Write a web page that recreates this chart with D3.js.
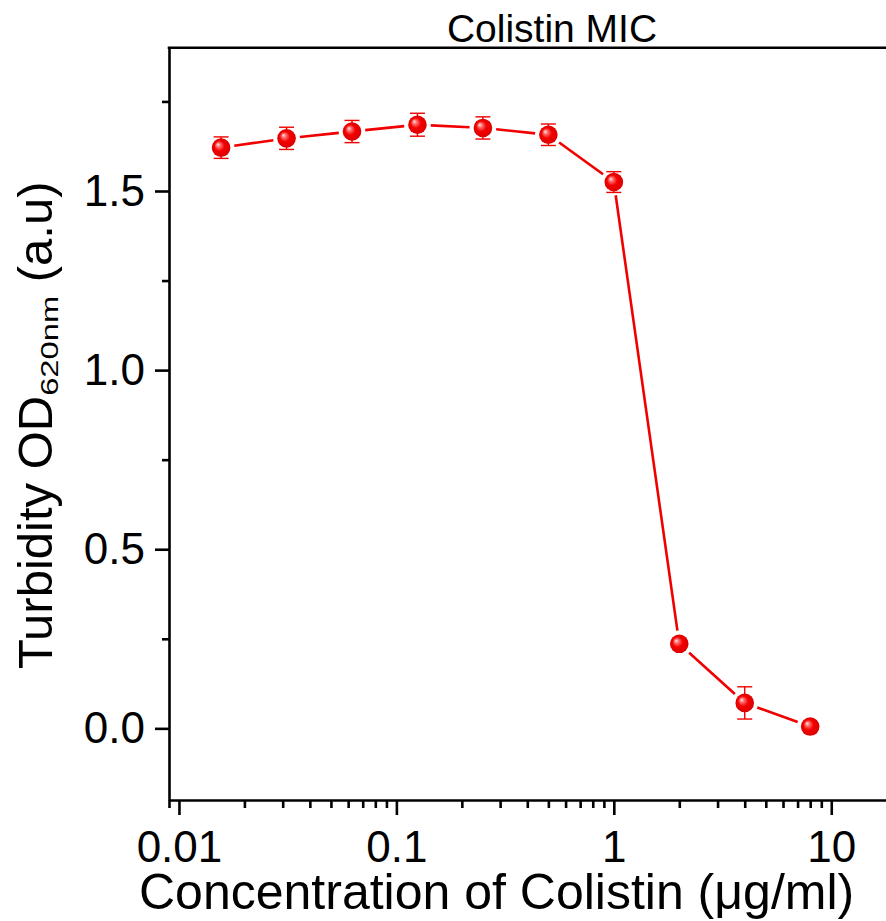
<!DOCTYPE html>
<html><head><meta charset="utf-8">
<script src="https://cdn.jsdelivr.net/npm/d3@7"></script>
<style>
html,body{margin:0;padding:0;background:#fff;}
svg{display:block;font-family:"Liberation Sans",Arial,Helvetica,sans-serif;}
</style></head>
<body>
<svg id="chart" width="886" height="921"></svg>
<script>
const titleText = "Colistin MIC";
const concentrations = [0.015625, 0.03125, 0.0625, 0.125, 0.25, 0.5, 1, 2, 4, 8];
const turbidity = [1.621, 1.647, 1.666, 1.685, 1.676, 1.657, 1.525, 0.236, 0.071, 0.005];
const errors = [0.030, 0.031, 0.031, 0.032, 0.031, 0.030, 0.029, 0.010, 0.045, 0.008];
const xTickValues = [0.01, 0.1, 1, 10];
const xTickLabels = ["0.01", "0.1", "1", "10"];
const yTickValues = [0, 0.5, 1.0, 1.5];
const yTickLabels = ["0.0", "0.5", "1.0", "1.5"];
const yMinorValues = [0.25, 0.75, 1.25, 1.75];
const xDomain = [0.009, 30];
const yDomain = [-0.2, 1.9];

(function(){
const svg = d3.select("#chart");
const pL = 169, pR = 935, pT = 47.7, pB = 800;
const x = d3.scaleLog().domain(xDomain).range([pL, pR]);
const y = d3.scaleLinear().domain(yDomain).range([pB, pT]);
const red = "#f00000";

const defs = svg.append("defs");
const g = defs.append("radialGradient").attr("id","sphere")
  .attr("cx","50%").attr("cy","50%").attr("r","55%")
  .attr("fx","32%").attr("fy","32%");
g.append("stop").attr("offset","0%").attr("stop-color","#ffe6e6");
g.append("stop").attr("offset","22%").attr("stop-color","#ff6a6a");
g.append("stop").attr("offset","50%").attr("stop-color","#f40000");
g.append("stop").attr("offset","100%").attr("stop-color","#d60000");

const xMinor = [];
for (let e = -3; e <= 1; e++) for (let m = 2; m <= 9; m++) {
  const v = m * Math.pow(10, e);
  if (v >= xDomain[0] - 1e-12 && v <= xDomain[1] + 1e-9) xMinor.push(v);
}

const axisW = 2.6;
const xAxis = d3.axisBottom(x).tickValues(xTickValues).tickFormat((d,i)=>xTickLabels[i])
  .tickSize(15).tickSizeOuter(0).tickPadding(16);
const gx = svg.append("g").attr("transform",`translate(0,${pB})`).call(xAxis);
gx.selectAll(".tick text").attr("font-size",44).attr("font-family","'Liberation Sans',Arial,sans-serif").attr("fill","#000");
gx.selectAll("line").attr("stroke-width",axisW);
gx.select(".domain").attr("stroke-width",axisW);
const xMinorAxis = d3.axisBottom(x).tickValues(xMinor).tickFormat("").tickSize(8).tickSizeOuter(0);
const gxm = svg.append("g").attr("transform",`translate(0,${pB})`).call(xMinorAxis);
gxm.select(".domain").remove();
gxm.selectAll("line").attr("stroke-width",axisW);

const yAxis = d3.axisLeft(y).tickValues(yTickValues).tickFormat((d,i)=>yTickLabels[i])
  .tickSize(14).tickSizeOuter(0).tickPadding(10);
const gy = svg.append("g").attr("transform",`translate(${pL},0)`).call(yAxis);
gy.selectAll(".tick text").attr("font-size",44).attr("font-family","'Liberation Sans',Arial,sans-serif").attr("fill","#000");
gy.selectAll("line").attr("stroke-width",axisW);
gy.select(".domain").attr("stroke-width",axisW);
const yMinorAxis = d3.axisLeft(y).tickValues(yMinorValues).tickFormat("").tickSize(7).tickSizeOuter(0);
const gym = svg.append("g").attr("transform",`translate(${pL},0)`).call(yMinorAxis);
gym.select(".domain").remove();
gym.selectAll("line").attr("stroke-width",axisW);

svg.append("line").attr("x1",pL-axisW/2).attr("x2",pR).attr("y1",pT).attr("y2",pT)
  .attr("stroke","#000").attr("stroke-width",axisW);
svg.append("line").attr("x1",pR).attr("x2",pR).attr("y1",pT).attr("y2",pB)
  .attr("stroke","#000").attr("stroke-width",axisW);

const data = concentrations.map((c,i)=>({c, v: turbidity[i], e: errors[i]}));
const R = 9.3, gap = 4;

const segs = d3.pairs(data);
svg.append("g").selectAll("line").data(segs).join("line")
  .each(function([a,b]){
    const x1 = x(a.c), y1 = y(a.v), x2 = x(b.c), y2 = y(b.v);
    const L = Math.hypot(x2-x1, y2-y1), off = R + gap;
    const ux = (x2-x1)/L, uy = (y2-y1)/L;
    d3.select(this).attr("x1",x1+ux*off).attr("y1",y1+uy*off)
      .attr("x2",x2-ux*off).attr("y2",y2-uy*off);
  })
  .attr("stroke",red).attr("stroke-width",2.6);

const eb = svg.append("g").attr("stroke",red).attr("stroke-width",1.4);
data.forEach(d=>{
  const cx = x(d.c), yt = y(d.v + d.e), yb = y(d.v - d.e);
  eb.append("line").attr("x1",cx).attr("x2",cx).attr("y1",yt).attr("y2",yb);
  eb.append("line").attr("x1",cx-7.5).attr("x2",cx+7.5).attr("y1",yt).attr("y2",yt);
  eb.append("line").attr("x1",cx-7.5).attr("x2",cx+7.5).attr("y1",yb).attr("y2",yb);
});

svg.append("g").selectAll("circle").data(data).join("circle")
  .attr("cx",d=>x(d.c)).attr("cy",d=>y(d.v)).attr("r",R)
  .attr("fill","url(#sphere)");

svg.append("text").attr("x",552).attr("y",42).attr("text-anchor","middle")
  .attr("font-size",39).attr("fill","#000").text(titleText);

svg.append("text").attr("x",139).attr("y",909).attr("text-anchor","start")
  .attr("font-size",50).attr("fill","#000").text("Concentration of Colistin (\u03bcg/ml)");

const yl = svg.append("text").attr("transform","translate(52,669) rotate(-90)")
  .attr("text-anchor","start").attr("font-size",49).attr("fill","#000");
yl.append("tspan").text("Turbidity OD");
yl.append("tspan").attr("font-size",24).attr("dy",6)
  .attr("textLength",100).attr("lengthAdjust","spacingAndGlyphs").text("620nm");
yl.append("tspan").attr("dy",-6).text(" (a.u)");
})();
</script>
</body></html>
